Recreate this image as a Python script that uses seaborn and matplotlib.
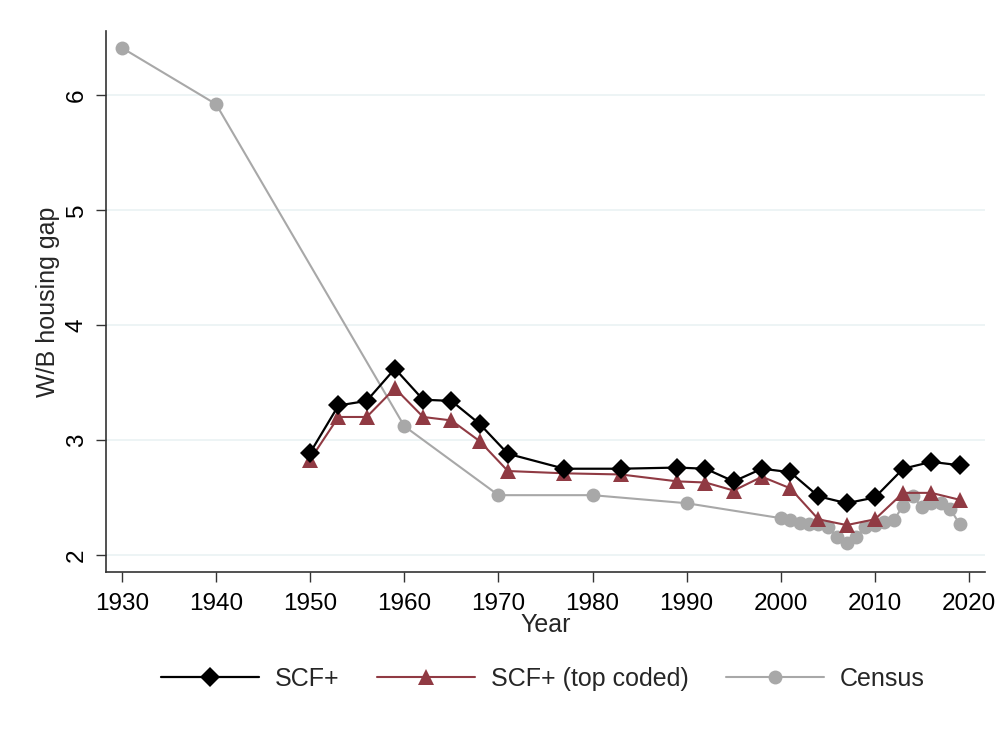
import numpy as np
import pandas as pd
import matplotlib
matplotlib.use("Agg")
import matplotlib.pyplot as plt
import seaborn as sns

# ---- data ----
scf_years = [1950, 1953, 1956, 1959, 1962, 1965, 1968, 1971, 1977, 1983, 1989,
             1992, 1995, 1998, 2001, 2004, 2007, 2010, 2013, 2016, 2019]
scf_gap = [2.89, 3.30, 3.34, 3.62, 3.35, 3.34, 3.14, 2.88, 2.75, 2.75, 2.76,
           2.75, 2.64, 2.75, 2.72, 2.51, 2.45, 2.50, 2.75, 2.81, 2.78]
scf_top_gap = [2.83, 3.20, 3.20, 3.45, 3.20, 3.17, 2.99, 2.73, 2.71, 2.70, 2.64,
               2.63, 2.56, 2.68, 2.58, 2.31, 2.26, 2.31, 2.54, 2.54, 2.48]
census_years = [1930, 1940, 1960, 1970, 1980, 1990, 2000, 2001, 2002, 2003, 2004,
                2005, 2006, 2007, 2008, 2009, 2010, 2011, 2012, 2013, 2014, 2015,
                2016, 2017, 2018, 2019]
census_gap = [6.41, 5.92, 3.12, 2.52, 2.52, 2.45, 2.32, 2.30, 2.28, 2.27, 2.27,
              2.24, 2.16, 2.10, 2.16, 2.24, 2.26, 2.29, 2.30, 2.43, 2.51, 2.42,
              2.45, 2.45, 2.40, 2.27]
series_names = ["SCF+", "SCF+ (top coded)", "Census"]
x_ticks = [1930, 1940, 1950, 1960, 1970, 1980, 1990, 2000, 2010, 2020]
y_ticks = [2, 3, 4, 5, 6]

df_scf = pd.DataFrame({"Year": scf_years, "gap": scf_gap})
df_top = pd.DataFrame({"Year": scf_years, "gap": scf_top_gap})
df_cen = pd.DataFrame({"Year": census_years, "gap": census_gap})

sns.set_theme(style="white")
plt.rcParams["font.family"] = ["Liberation Sans", "DejaVu Sans"]

fig = plt.figure(figsize=(10, 7.29), dpi=100)
ax = fig.add_axes([0.106, 0.2154, 0.879, 0.7421])

c_black = "#000000"
c_red = "#903A43"
c_gray = "#A8A8A8"

sns.lineplot(data=df_cen, x="Year", y="gap", ax=ax, color=c_gray, marker="o",
             markersize=10, markeredgewidth=0, linewidth=1.5, label=series_names[2], zorder=2)
sns.lineplot(data=df_scf, x="Year", y="gap", ax=ax, color=c_black, marker="D",
             markersize=10, markeredgewidth=0, linewidth=1.6, label=series_names[0], zorder=4)
sns.lineplot(data=df_top, x="Year", y="gap", ax=ax, color=c_red, marker="^",
             markersize=11.5, markeredgewidth=0, linewidth=1.5, label=series_names[1], zorder=3)

ax.set_xlim(1928.3, 2021.7)
ax.set_ylim(1.852, 6.557)
ax.set_xticks(x_ticks)
ax.set_yticks(y_ticks)
ax.set_yticklabels([str(v) for v in y_ticks], rotation=90, va="center")
ax.tick_params(axis="both", direction="out", length=7, width=1.0, color="#333333",
               labelsize=17.5, colors="black", bottom=True, left=True)
ax.tick_params(axis="x", pad=8)
ax.tick_params(axis="y", pad=6)
ax.grid(axis="y", color="#EAF2F3", linewidth=1.2)
ax.grid(axis="x", visible=False)
for s in ["top", "right"]:
    ax.spines[s].set_visible(False)
for s in ["left", "bottom"]:
    ax.spines[s].set_color("#333333")
    ax.spines[s].set_linewidth(1.2)
ax.set_xlabel("Year", fontsize=18, labelpad=-1)
ax.set_ylabel("W/B housing gap", fontsize=18, labelpad=4)

handles, labels = ax.get_legend_handles_labels()
order = [labels.index(n) for n in series_names]
ax.legend([handles[i] for i in order], [labels[i] for i in order],
          loc="center", bbox_to_anchor=(0.543, 0.069), bbox_transform=fig.transFigure,
          ncol=3, frameon=False, fontsize=18, handlelength=3.9, handletextpad=0.65,
          columnspacing=1.5, markerscale=1.0)

fig.savefig("out.png", dpi=100, facecolor="white")
